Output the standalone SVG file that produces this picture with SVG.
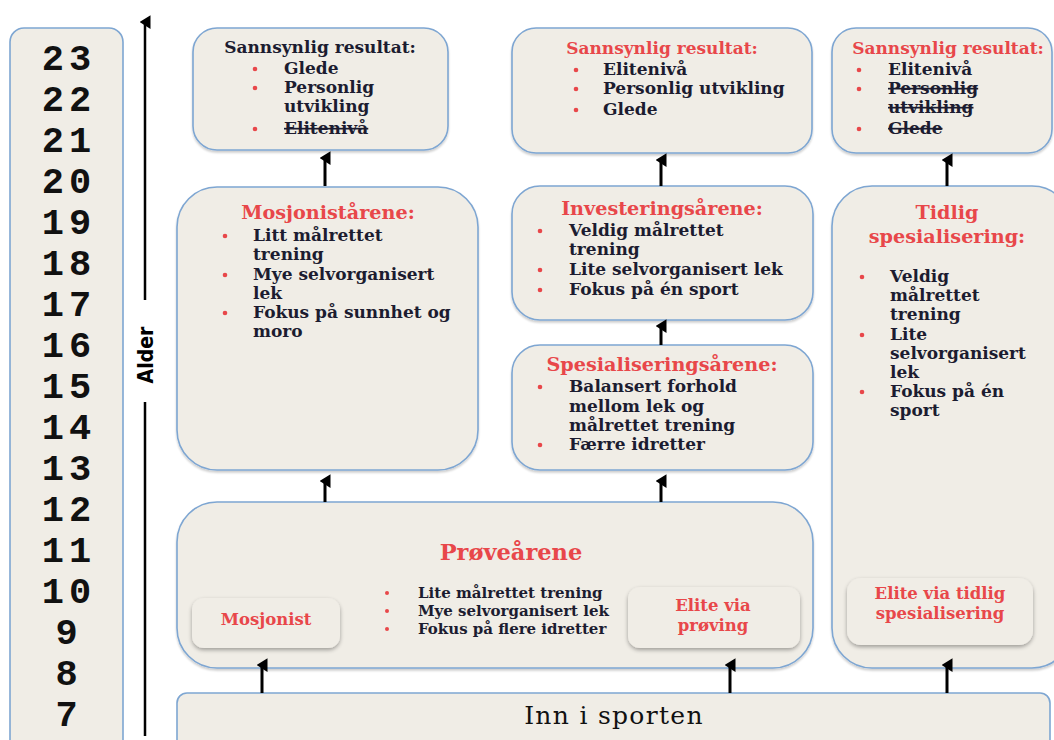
<svg xmlns="http://www.w3.org/2000/svg" width="1054" height="740" viewBox="0 0 1054 740">
  <defs>
    <marker id="head" viewBox="0 0 10 8" refX="5" refY="4" markerWidth="14" markerHeight="11" orient="auto" markerUnits="userSpaceOnUse">
      <path d="M0,8 L5,0 L10,8 Z" fill="#000"/>
    </marker>
    <filter id="soft" x="-10%" y="-10%" width="120%" height="130%">
      <feGaussianBlur in="SourceAlpha" stdDeviation="2"/>
      <feOffset dx="0" dy="2" result="b"/>
      <feComponentTransfer><feFuncA type="linear" slope="0.35"/></feComponentTransfer>
      <feMerge><feMergeNode/><feMergeNode in="SourceGraphic"/></feMerge>
    </filter>
    <filter id="edge" x="-5%" y="-5%" width="110%" height="115%">
      <feGaussianBlur in="SourceAlpha" stdDeviation="1.2"/>
      <feOffset dx="0" dy="1.5" result="b"/>
      <feComponentTransfer><feFuncA type="linear" slope="0.2"/></feComponentTransfer>
      <feMerge><feMergeNode/><feMergeNode in="SourceGraphic"/></feMerge>
    </filter>
  </defs>
  <style>
    .box { fill: #f0ede6; stroke: #7ea6d2; stroke-width: 1.6; }
    .inner { fill: #f0ede6; stroke: none; }
    .t { font-family: "DejaVu Serif", "Liberation Serif", serif; font-weight: bold; fill: #1c1c30; font-size: 17px; }
    .red { fill: #e8474a; }
    .h { font-size: 19.2px; }
    .s { font-size: 16.5px; }
    .p { font-size: 15px; }
    .big { font-size: 22.5px; }
    .dot { fill: #e8474a; }
    .age { font-family: "Liberation Mono", "DejaVu Sans Mono", monospace; font-weight: bold; font-size: 37px; letter-spacing: 5px; fill: #111; text-anchor: middle; }
    .c { text-anchor: middle; }
    .strike { text-decoration: line-through; }
    .conn line { stroke: #000; stroke-width: 3; marker-end: url(#head); }
  </style>

  <rect width="1054" height="740" fill="#fff"/>

  <!-- age scale -->
  <g id="age-scale">
    <rect class="box" x="10" y="28" width="113" height="730" rx="14"/>
    <text class="age" x="69" y="70">23</text>
    <text class="age" x="69" y="111">22</text>
    <text class="age" x="69" y="152">21</text>
    <text class="age" x="69" y="193">20</text>
    <text class="age" x="69" y="234">19</text>
    <text class="age" x="69" y="275">18</text>
    <text class="age" x="69" y="316">17</text>
    <text class="age" x="69" y="357">16</text>
    <text class="age" x="69" y="398">15</text>
    <text class="age" x="69" y="439">14</text>
    <text class="age" x="69" y="480">13</text>
    <text class="age" x="69" y="521">12</text>
    <text class="age" x="69" y="562">11</text>
    <text class="age" x="69" y="603">10</text>
    <text class="age" x="69" y="644">9</text>
    <text class="age" x="69" y="685">8</text>
    <text class="age" x="69" y="726">7</text>
  </g>

  <!-- age axis -->
  <g id="alder-axis">
    <line x1="145" y1="736" x2="145" y2="402" stroke="#000" stroke-width="2.5"/>
    <line x1="145" y1="300" x2="145" y2="22" stroke="#000" stroke-width="2.5" marker-end="url(#head)"/>
    <text x="0" y="0" transform="translate(153,355) rotate(-90)" font-family="'Liberation Sans Narrow','DejaVu Sans Condensed','Liberation Sans',sans-serif" font-weight="bold" font-size="21" text-anchor="middle" fill="#000">Alder</text>
  </g>

  <!-- result boxes -->
  <g id="result-mosjon">
    <rect class="box" x="193" y="28" width="255" height="122" rx="24" filter="url(#edge)"/>
    <text class="t c" x="320" y="53">Sannsynlig resultat:</text>
    <circle class="dot" cx="255" cy="69" r="2.3"/>
    <text class="t" x="284" y="74">Glede</text>
    <circle class="dot" cx="255" cy="88" r="2.3"/>
    <text class="t" x="284" y="93">Personlig</text>
    <text class="t" x="284" y="112">utvikling</text>
    <circle class="dot" cx="255" cy="129" r="2.3"/>
    <text class="t strike" x="284" y="134">Elitenivå</text>
  </g>

  <g id="result-elite">
    <rect class="box" x="512" y="28" width="300" height="125" rx="24" filter="url(#edge)"/>
    <text class="t red c" x="662" y="54">Sannsynlig resultat:</text>
    <circle class="dot" cx="576" cy="70" r="2.3"/>
    <text class="t" x="603" y="75">Elitenivå</text>
    <circle class="dot" cx="576" cy="89" r="2.3"/>
    <text class="t" x="603" y="94">Personlig utvikling</text>
    <circle class="dot" cx="576" cy="110" r="2.3"/>
    <text class="t" x="603" y="115">Glede</text>
  </g>

  <g id="result-tidlig">
    <rect class="box" x="832" y="28" width="220" height="125" rx="24" filter="url(#edge)"/>
    <text class="t red c" x="948" y="54">Sannsynlig resultat:</text>
    <circle class="dot" cx="859" cy="70" r="2.3"/>
    <text class="t" x="888" y="75">Elitenivå</text>
    <circle class="dot" cx="859" cy="89" r="2.3"/>
    <text class="t strike" x="888" y="94">Personlig</text>
    <text class="t strike" x="888" y="113">utvikling</text>
    <circle class="dot" cx="859" cy="129" r="2.3"/>
    <text class="t strike" x="888" y="134">Glede</text>
  </g>

  <!-- phase boxes -->
  <g id="mosjonistarene">
    <rect class="box" x="177" y="187" width="301" height="283" rx="40" filter="url(#edge)"/>
    <text class="t h red c" x="328" y="219">Mosjonistårene:</text>
    <circle class="dot" cx="225" cy="236" r="2.3"/>
    <text class="t" x="253" y="241">Litt målrettet</text>
    <text class="t" x="253" y="260">trening</text>
    <circle class="dot" cx="225" cy="275" r="2.3"/>
    <text class="t" x="253" y="280">Mye selvorganisert</text>
    <text class="t" x="253" y="299">lek</text>
    <circle class="dot" cx="225" cy="313" r="2.3"/>
    <text class="t" x="253" y="318">Fokus på sunnhet og</text>
    <text class="t" x="253" y="337">moro</text>
  </g>

  <g id="investeringsarene">
    <rect class="box" x="512" y="186" width="301" height="134" rx="28" filter="url(#edge)"/>
    <text class="t h red c" x="662" y="215">Investeringsårene:</text>
    <circle class="dot" cx="540" cy="231" r="2.3"/>
    <text class="t" x="569" y="236">Veldig målrettet</text>
    <text class="t" x="569" y="255">trening</text>
    <circle class="dot" cx="540" cy="270" r="2.3"/>
    <text class="t" x="569" y="275">Lite selvorganisert lek</text>
    <circle class="dot" cx="540" cy="290" r="2.3"/>
    <text class="t" x="569" y="295">Fokus på én sport</text>
  </g>

  <g id="spesialiseringsarene">
    <rect class="box" x="512" y="345" width="301" height="125" rx="28" filter="url(#edge)"/>
    <text class="t h red c" x="662" y="371">Spesialiseringsårene:</text>
    <circle class="dot" cx="540" cy="387" r="2.3"/>
    <text class="t" x="569" y="392">Balansert forhold</text>
    <text class="t" x="569" y="412">mellom lek og</text>
    <text class="t" x="569" y="431">målrettet trening</text>
    <circle class="dot" cx="540" cy="445" r="2.3"/>
    <text class="t" x="569" y="450">Færre idretter</text>
  </g>

  <g id="tidlig-spesialisering">
    <rect class="box" x="832" y="186" width="240" height="482" rx="40" filter="url(#edge)"/>
    <text class="t h red c" x="947" y="219">Tidlig</text>
    <text class="t h red c" x="947" y="243">spesialisering:</text>
    <circle class="dot" cx="862" cy="277" r="2.3"/>
    <text class="t" x="890" y="282">Veldig</text>
    <text class="t" x="890" y="301">målrettet</text>
    <text class="t" x="890" y="320">trening</text>
    <circle class="dot" cx="862" cy="335" r="2.3"/>
    <text class="t" x="890" y="340">Lite</text>
    <text class="t" x="890" y="359">selvorganisert</text>
    <text class="t" x="890" y="378">lek</text>
    <circle class="dot" cx="862" cy="392" r="2.3"/>
    <text class="t" x="890" y="397">Fokus på én</text>
    <text class="t" x="890" y="416">sport</text>
  </g>

  <g id="elite-tidlig">
    <rect class="inner" x="847" y="578" width="186" height="67" rx="14" filter="url(#soft)"/>
    <text class="t s red c" x="940" y="599">Elite via tidlig</text>
    <text class="t s red c" x="940" y="619">spesialisering</text>
  </g>

  <g id="proveaarene">
    <rect class="box" x="177" y="502" width="636" height="166" rx="40" filter="url(#edge)"/>
    <text class="t big red c" x="511" y="560">Prøveårene</text>
    <circle class="dot" cx="387" cy="593" r="2"/>
    <text class="t p" x="418" y="598">Lite målrettet trening</text>
    <circle class="dot" cx="387" cy="611" r="2"/>
    <text class="t p" x="418" y="616">Mye selvorganisert lek</text>
    <circle class="dot" cx="387" cy="629" r="2"/>
    <text class="t p" x="418" y="634">Fokus på flere idretter</text>
  </g>

  <g id="mosjonist">
    <rect class="inner" x="192" y="598" width="148" height="50" rx="12" filter="url(#soft)"/>
    <text class="t s red c" x="266" y="625">Mosjonist</text>
  </g>

  <g id="elite-proving">
    <rect class="inner" x="628" y="587" width="172" height="61" rx="12" filter="url(#soft)"/>
    <text class="t s red c" x="713" y="611">Elite via</text>
    <text class="t s red c" x="713" y="631">prøving</text>
  </g>

  <g id="inn-i-sporten">
    <rect class="box" x="177" y="693" width="873" height="70" rx="10"/>
    <text x="614" y="724" text-anchor="middle" font-family="'DejaVu Serif','Liberation Serif',serif" font-size="25" letter-spacing="1.3" fill="#111">Inn i sporten</text>
  </g>

  <!-- connectors -->
  <g id="connectors" class="conn">
    <line x1="325" y1="186" x2="325" y2="158"/>
    <line x1="661" y1="186" x2="661" y2="160"/>
    <line x1="947" y1="186" x2="947" y2="160"/>
    <line x1="661" y1="345" x2="661" y2="326"/>
    <line x1="325" y1="502" x2="325" y2="481"/>
    <line x1="661" y1="502" x2="661" y2="481"/>
    <line x1="262" y1="693" x2="262" y2="665"/>
    <line x1="730" y1="693" x2="730" y2="665"/>
    <line x1="947" y1="693" x2="947" y2="665"/>
  </g>
</svg>
